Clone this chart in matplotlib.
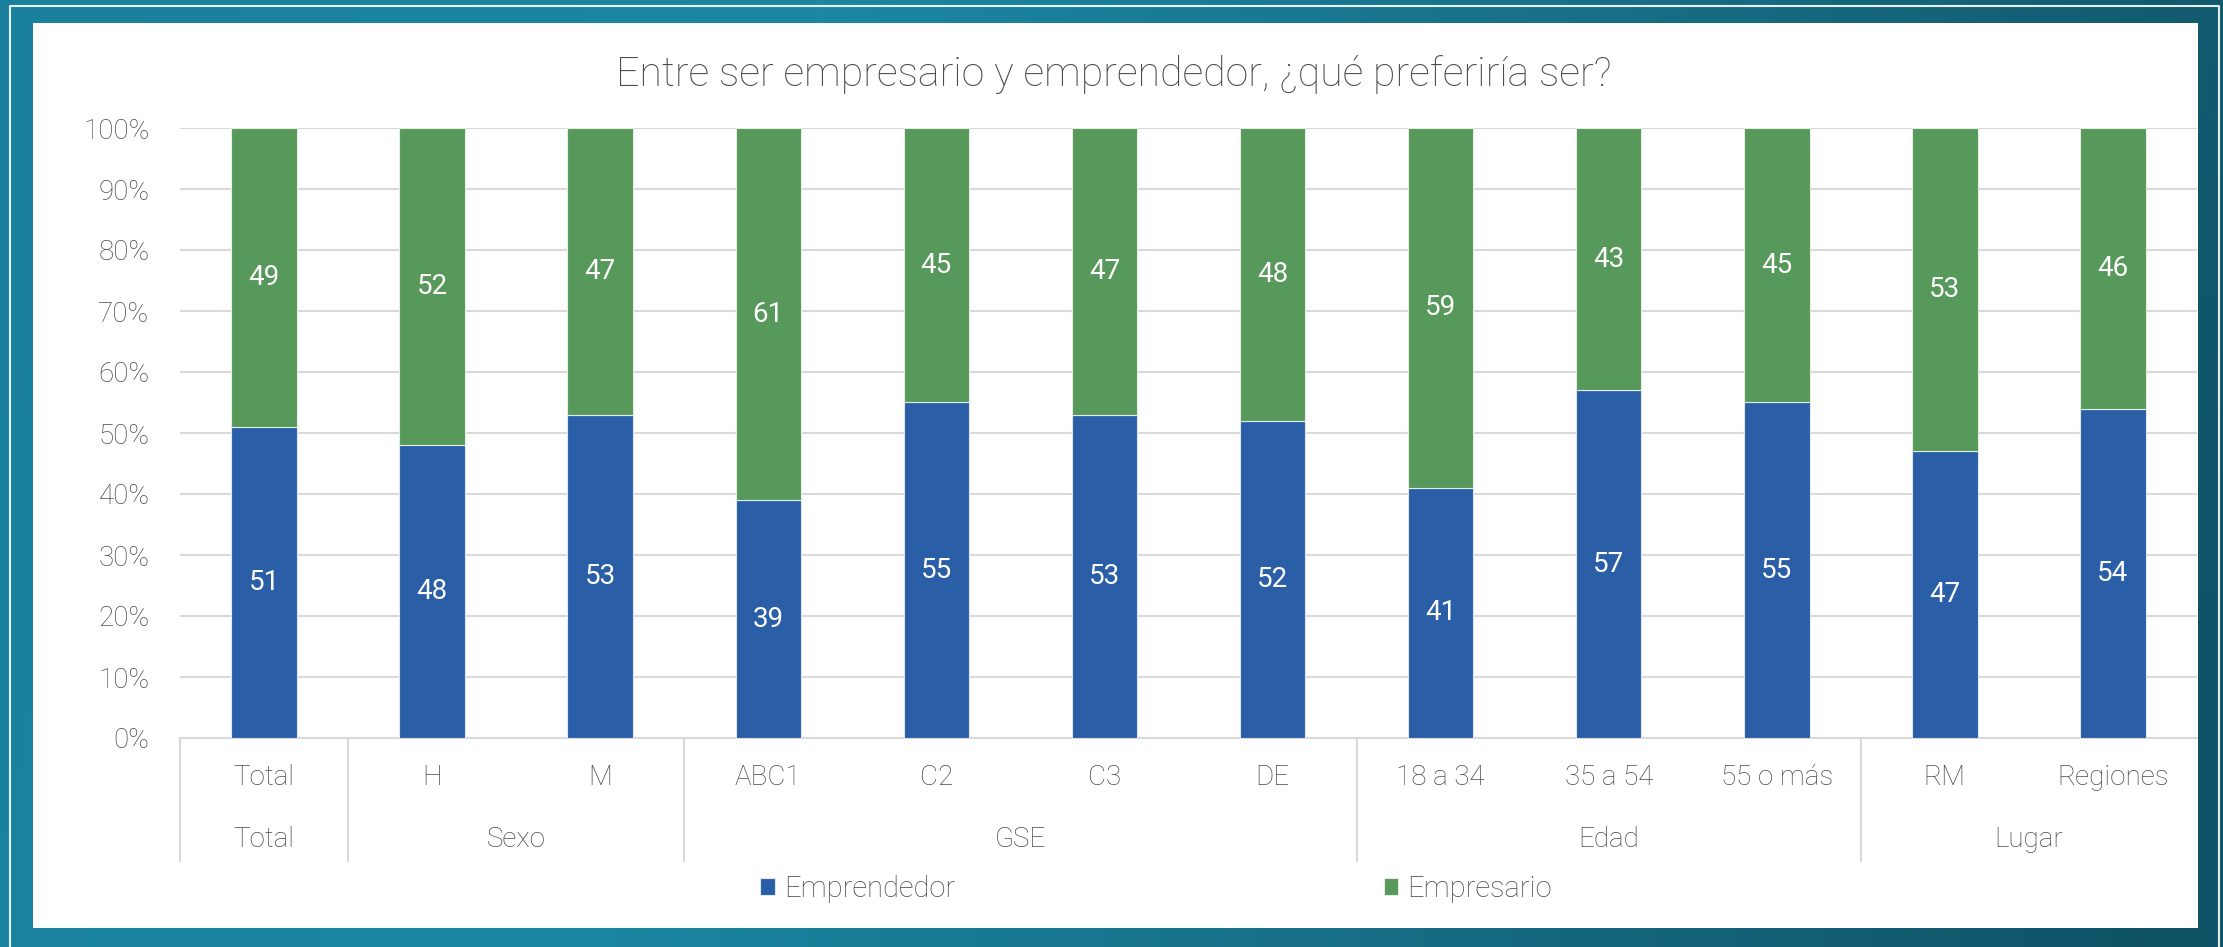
import numpy as np
import matplotlib
matplotlib.use("Agg")
from matplotlib import pyplot as plt
from matplotlib.patches import Rectangle
from matplotlib.colors import LinearSegmentedColormap

plt.rcParams['font.family'] = ['Roboto', 'DejaVu Sans']
plt.rcParams['font.weight'] = 'light'

# data
categorias = ["Total", "H", "M", "ABC1", "C2", "C3", "DE",
              "18 a 34", "35 a 54", "55 o más", "RM", "Regiones"]
grupos = ["Total", "Sexo", "GSE", "Edad", "Lugar"]
grupo_tam = [1, 2, 4, 3, 2]
emprendedor = [51, 48, 53, 39, 55, 53, 52, 41, 57, 55, 47, 54]
empresario = [49, 52, 47, 61, 45, 47, 48, 59, 43, 45, 53, 46]
yticks = [0, 10, 20, 30, 40, 50, 60, 70, 80, 90, 100]

titulo = "Entre ser empresario y emprendedor, ¿qué preferiría ser?"
AZUL = "#2a5fa8"
VERDE = "#57985b"
GRIS = "#4a4a4a"
LINEA = "#d9d9d9"

W, H = 2223, 947
fig = plt.figure(figsize=(W / 100, H / 100), dpi=100)

# background: teal gradient, thin frame, white panel
bg = fig.add_axes([0, 0, 1, 1])
bg.set_xlim(0, W)
bg.set_ylim(H, 0)
bg.axis("off")
cmap = LinearSegmentedColormap.from_list("teal", ["#1a809c", "#1b87a3", "#176e86", "#0f5265"])
grad = np.tile(np.linspace(0, 1, 256), (16, 1))
grad = grad + np.linspace(0, 0.12, 16)[:, None]
bg.imshow(grad, cmap=cmap, extent=[0, W, H, 0], aspect="auto", vmin=0, vmax=1.1)
bg.plot([10, 10, 2219, 2219], [H, 6, 6, H], color="white", lw=1.5, alpha=0.9)
bg.add_patch(Rectangle((33, 23), 2198 - 33, 928 - 23, facecolor="white", edgecolor="none"))

# main chart
ax = fig.add_axes([180 / W, 1 - 738 / H, 2017 / W, 610 / H])
x = np.arange(len(categorias))
b1 = ax.bar(x, emprendedor, width=0.39, color=AZUL, edgecolor="#dfe7f2", lw=0.8,
            label="Emprendedor", zorder=3)
b2 = ax.bar(x, empresario, width=0.39, bottom=emprendedor, color=VERDE, edgecolor="#e2eee2",
            lw=0.8, label="Empresario", zorder=3)
ax.bar_label(b1, labels=[str(v) for v in emprendedor], label_type="center", color="white",
             fontsize=20, fontweight="normal")
ax.bar_label(b2, labels=[str(v) for v in empresario], label_type="center", color="white",
             fontsize=20, fontweight="normal")

ax.set_xlim(-0.5, len(categorias) - 0.5)
ax.set_ylim(0, 100)
ax.set_yticks(yticks)
ax.set_yticklabels([f"{v}%" for v in yticks])
ax.yaxis.grid(True, color=LINEA, lw=1.5, zorder=0)
ax.set_axisbelow(True)
ax.tick_params(axis="y", length=0, pad=22, labelsize=20, labelcolor=GRIS)
ax.set_xticks([])
for s in ["top", "right", "left"]:
    ax.spines[s].set_visible(False)
ax.spines["bottom"].set_color(LINEA)
ax.spines["bottom"].set_linewidth(1.5)
ax.set_facecolor("none")

# multi-level category axis
tr = ax.get_xaxis_transform()
for i, c in enumerate(categorias):
    ax.text(i, -0.064, c, transform=tr, ha="center", va="center", fontsize=20, color=GRIS)
inicio = 0
for g, n in zip(grupos, grupo_tam):
    ax.plot([inicio - 0.5, inicio - 0.5], [0, -0.2016], transform=tr, color=LINEA, lw=1.5, clip_on=False)
    ax.text(inicio + (n - 1) / 2, -0.1656, g, transform=tr, ha="center", va="center",
            fontsize=20, color=GRIS)
    inicio += n

fig.text(1114 / W, 1 - 74 / H, titulo, ha="center", va="center", fontsize=29.5, color=GRIS)

fig.legend(handles=[b1, b2], loc="center", bbox_to_anchor=(1156 / W, 1 - 889 / H), ncol=2,
           frameon=False, fontsize=21, labelcolor=GRIS, columnspacing=14.7,
           handlelength=0.5, handleheight=0.5, handletextpad=0.3)

fig.savefig("out.png", dpi=100)
